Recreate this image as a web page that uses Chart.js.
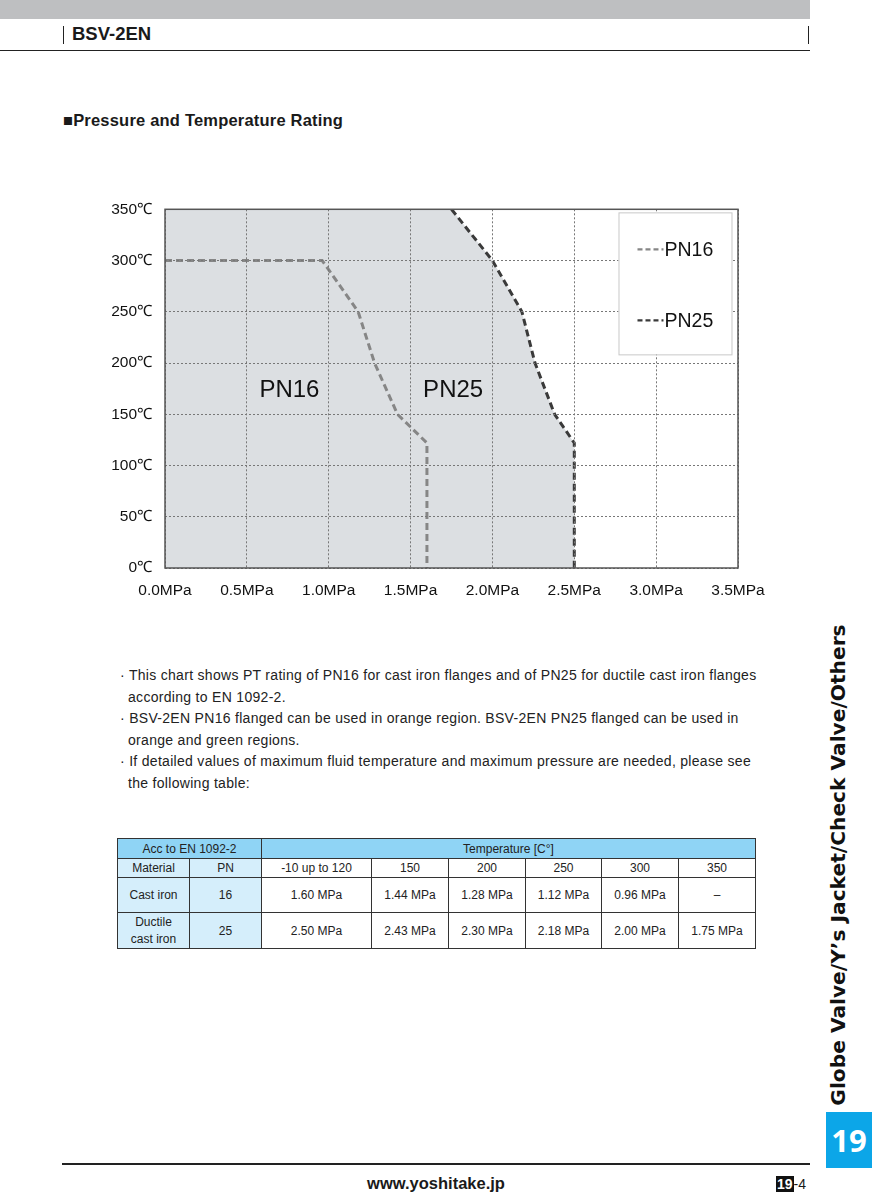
<!DOCTYPE html>
<html>
<head>
<meta charset="utf-8">
<script src="https://cdn.jsdelivr.net/npm/chart.js@4/dist/chart.umd.min.js"></script>
<style>
  body { margin: 0; background: #fff; font-family: "Liberation Sans", Arial, sans-serif; color: #1a1a1a; }
  .page { position: relative; width: 872px; height: 1200px; overflow: hidden; }
  .topbar { position: absolute; left: 0; top: 0; width: 810px; height: 19px; background: #bebfc1; }
  .hdr { position: absolute; left: 72px; top: 23px; font-size: 18.5px; font-weight: bold; }
  .vbar { position: absolute; top: 26px; width: 1px; height: 18px; background: #222; }
  .hline { position: absolute; left: 0; top: 50px; width: 810px; height: 1px; background: #222; }
  .title { position: absolute; left: 63px; top: 111px; font-size: 16.5px; font-weight: bold; letter-spacing: 0.2px; }
  #chartBox { position: absolute; left: 100px; top: 187px; width: 690px; height: 420px; }
  .notes { position: absolute; left: 120px; top: 665px; width: 638px; font-size: 14px; letter-spacing: 0.3px; line-height: 21.6px; color: #222; }
  .notes p { margin: 0; padding-left: 8px; text-indent: -8px; }
  table { position: absolute; left: 117px; top: 838px; border-collapse: collapse; font-size: 12px; color: #222; }
  td { border: 1px solid #333; text-align: center; padding: 0; }
  .b1 { background: #8fd4f5; }
  .b2 { background: #d5eefb; }
  .side { position: absolute; left: 838px; top: 865px; transform: translate(-50%, -50%) rotate(-90deg); white-space: nowrap;
          font-family: "DejaVu Sans", sans-serif; font-weight: bold; font-size: 20.2px; color: #111; }
  .tab { position: absolute; left: 826px; top: 1112px; width: 46px; height: 56px; background: #0ca6e8; color: #fff;
         font-size: 31px; font-weight: bold; text-align: center; line-height: 56px; font-family: "Open Sans", sans-serif; }
  .fline { position: absolute; left: 62px; top: 1163px; width: 748px; height: 2px; background: #222; }
  .url { position: absolute; left: 0; width: 872px; top: 1174px; text-align: center; font-size: 16.5px; font-weight: bold; }
  .pg { position: absolute; left: 776px; top: 1176px; font-size: 14px; }
  .pg span { background: #111; color: #fff; font-weight: bold; padding: 0 1px; }
</style>
</head>
<body>
<div class="page">
  <div class="topbar"></div>
  <div class="vbar" style="left:63px"></div>
  <div class="vbar" style="left:808px"></div>
  <div class="hdr">BSV-2EN</div>
  <div class="hline"></div>
  <div class="title">■Pressure and Temperature Rating</div>

  <div id="chartBox"><canvas id="ptChart" width="690" height="420"></canvas></div>

  <div class="notes">
    <p>· This chart shows PT rating of PN16 for cast iron flanges and of PN25 for ductile cast iron flanges according to EN 1092-2.</p>
    <p>· BSV-2EN PN16 flanged can be used in orange region. BSV-2EN PN25 flanged can be used in orange and green regions.</p>
    <p>· If detailed values of maximum fluid temperature and maximum pressure are needed, please see the following table:</p>
  </div>

  <table>
    <tr style="height:20px">
      <td class="b1" colspan="2">Acc to EN 1092-2</td>
      <td class="b1" colspan="6">Temperature [C°]</td>
    </tr>
    <tr style="height:19px">
      <td class="b2" style="width:71px">Material</td>
      <td class="b2" style="width:71px">PN</td>
      <td style="width:109px">-10 up to 120</td>
      <td style="width:76px">150</td>
      <td style="width:76px">200</td>
      <td style="width:75px">250</td>
      <td style="width:76px">300</td>
      <td style="width:76px">350</td>
    </tr>
    <tr style="height:35px">
      <td class="b2">Cast iron</td><td class="b2">16</td>
      <td>1.60 MPa</td><td>1.44 MPa</td><td>1.28 MPa</td><td>1.12 MPa</td><td>0.96 MPa</td><td>–</td>
    </tr>
    <tr style="height:36px">
      <td class="b2" style="line-height:17px">Ductile<br>cast iron</td><td class="b2">25</td>
      <td>2.50 MPa</td><td>2.43 MPa</td><td>2.30 MPa</td><td>2.18 MPa</td><td>2.00 MPa</td><td>1.75 MPa</td>
    </tr>
  </table>

  <div class="side">Globe Valve/Y’s Jacket/Check Valve/Others</div>
  <div class="tab">19</div>
  <div class="fline"></div>
  <div class="url">www.yoshitake.jp</div>
  <div class="pg"><span>19</span>-4</div>
</div>

<script>
// curve points (pressure MPa, temperature °C)
var pn16Pressure = [0, 0.96, 1.18, 1.28, 1.42, 1.60, 1.60];
var pn16Temp     = [300, 300, 250, 200, 150, 122, 0];
var pn25Pressure = [1.75, 2.00, 2.18, 2.26, 2.38, 2.50, 2.50];
var pn25Temp     = [350, 300, 250, 200, 150, 122, 0];
var xTicks = [0, 0.5, 1.0, 1.5, 2.0, 2.5, 3.0, 3.5];
var yTicks = [0, 50, 100, 150, 200, 250, 300, 350];
var regionLabels = [
  { text: 'PN16', x: 0.76, y: 173 },
  { text: 'PN25', x: 1.76, y: 173 }
];

function toPoints(xs, ys) {
  var pts = [];
  for (var i = 0; i < xs.length; i++) pts.push({ x: xs[i], y: ys[i] });
  return pts;
}

// the shaded area: everything left of the PN25 curve
var fillPoints = [{ x: 0, y: 350 }].concat(toPoints(pn25Pressure, pn25Temp));

var frameAndLabels = {
  id: 'frameAndLabels',
  afterDraw: function (chart) {
    var ctx = chart.ctx, a = chart.chartArea;
    var xs = chart.scales.x, ys = chart.scales.y;
    ctx.save();
    ctx.strokeStyle = '#555';
    ctx.lineWidth = 1.5;
    ctx.strokeRect(a.left, a.top, a.right - a.left, a.bottom - a.top);

    ctx.fillStyle = '#111';
    ctx.font = '24px "Liberation Sans", Arial, sans-serif';
    ctx.textAlign = 'center';
    ctx.textBaseline = 'middle';
    regionLabels.forEach(function (r) {
      ctx.fillText(r.text, xs.getPixelForValue(r.x), ys.getPixelForValue(r.y));
    });

    // legend box inside the plot
    var bx = xs.getPixelForValue(2.77), by = ys.getPixelForValue(347);
    var bw = 113, bh = 142;
    ctx.fillStyle = '#fff';
    ctx.fillRect(bx, by, bw, bh);
    ctx.strokeStyle = '#c8c8c8';
    ctx.lineWidth = 1;
    ctx.strokeRect(bx + 0.5, by + 0.5, bw, bh);
    var items = chart.data.datasets.filter(function (d) { return d.label; });
    items.forEach(function (d, i) {
      var ly = by + 37 + i * 71;
      ctx.strokeStyle = d.borderColor;
      ctx.lineWidth = 2.2;
      ctx.setLineDash([5, 3]);
      ctx.beginPath();
      ctx.moveTo(bx + 19, ly);
      ctx.lineTo(bx + 45, ly);
      ctx.stroke();
      ctx.setLineDash([]);
      ctx.fillStyle = '#111';
      ctx.font = '19.5px "Liberation Sans", Arial, sans-serif';
      ctx.textAlign = 'left';
      ctx.fillText(d.label, bx + 46, ly + 1);
    });
    ctx.restore();
  }
};

var ctx = document.getElementById('ptChart').getContext('2d');
new Chart(ctx, {
  type: 'scatter',
  data: {
    datasets: [
      {
        data: fillPoints,
        showLine: true,
        borderWidth: 0,
        borderColor: 'rgba(0,0,0,0)',
        backgroundColor: '#dcdfe2',
        fill: 'start',
        pointRadius: 0,
        order: 3
      },
      {
        label: 'PN16',
        data: toPoints(pn16Pressure, pn16Temp),
        showLine: true,
        borderColor: '#868686',
        borderWidth: 3,
        borderDash: [7, 4],
        pointRadius: 0,
        fill: false,
        order: 2
      },
      {
        label: 'PN25',
        data: toPoints(pn25Pressure, pn25Temp),
        showLine: true,
        borderColor: '#3a3a3a',
        borderWidth: 3,
        borderDash: [7, 4],
        pointRadius: 0,
        fill: false,
        order: 1
      }
    ]
  },
  options: {
    responsive: false,
    animation: false,
    layout: { padding: { top: 17, right: 52, left: 0, bottom: 0 } },
    plugins: { legend: { display: false }, tooltip: { enabled: false } },
    scales: {
      x: {
        type: 'linear',
        min: 0, max: 3.5,
        afterBuildTicks: function (s) { s.ticks = xTicks.map(function (v) { return { value: v }; }); },
        afterFit: function (s) { s.height = 39; },
        ticks: {
          color: '#111',
          font: { size: 15.5, family: '"Liberation Sans", Arial, sans-serif' },
          padding: 13,
          maxRotation: 0,
          callback: function (v) { return v.toFixed(1) + 'MPa'; }
        },
        grid: { color: '#777', lineWidth: 1, drawTicks: false, z: 1 },
        border: { display: false, dash: [2, 2] }
      },
      y: {
        type: 'linear',
        min: 0, max: 350,
        afterBuildTicks: function (s) { s.ticks = yTicks.map(function (v) { return { value: v }; }); },
        afterFit: function (s) { s.width = 65; },
        ticks: {
          color: '#111',
          font: { size: 15.5, family: '"Liberation Sans", Arial, sans-serif' },
          padding: 13,
          callback: function (v) { return v + '℃'; }
        },
        grid: { color: '#777', lineWidth: 1, drawTicks: false, z: 1 },
        border: { display: false, dash: [2, 2] }
      }
    }
  },
  plugins: [frameAndLabels]
});
</script>
</body>
</html>
